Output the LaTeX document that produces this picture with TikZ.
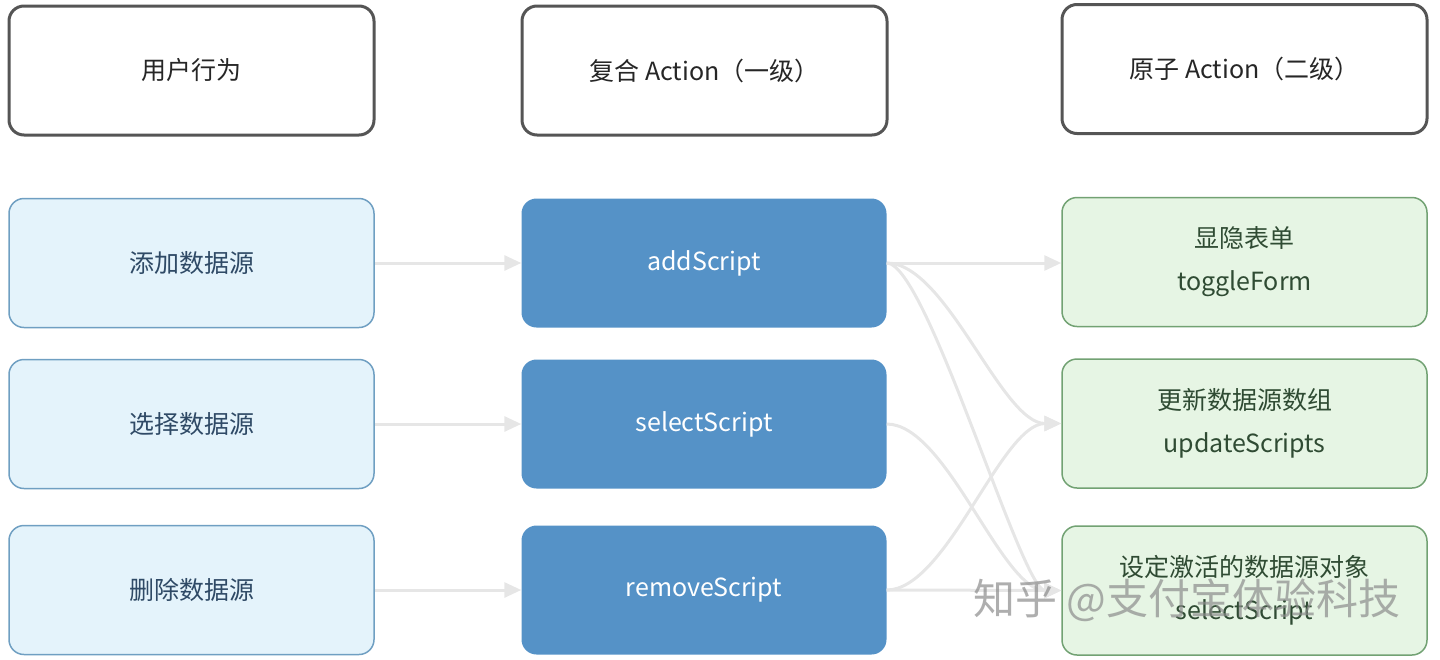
\documentclass[tikz,border=0pt]{standalone}
\usepackage{fontspec}
\setmainfont{Noto Sans CJK SC}
\usetikzlibrary{arrows.meta}
\definecolor{hdrborder}{HTML}{555555}
\definecolor{userfill}{HTML}{E4F3FB}
\definecolor{userborder}{HTML}{6F9FC2}
\definecolor{usertext}{HTML}{2F4A66}
\definecolor{compfill}{HTML}{5592C7}
\definecolor{atomfill}{HTML}{E6F5E4}
\definecolor{atomborder}{HTML}{72A273}
\definecolor{atomtext}{HTML}{2F4B33}
\definecolor{linkgray}{HTML}{E6E6E6}
\tikzset{
  box/.style={rectangle, rounded corners=15pt, minimum width=365pt, minimum height=129pt, inner sep=0pt, align=center, font=\fontsize{25}{43}\selectfont},
  hdr/.style={box, draw=hdrborder, line width=3pt, fill=white, text=black!85},
  user/.style={box, draw=userborder, line width=1.5pt, fill=userfill, text=usertext},
  comp/.style={box, fill=compfill, text=white},
  atom/.style={box, draw=atomborder, line width=1.5pt, fill=atomfill, text=atomtext},
  link/.style={draw=linkgray, line width=3pt, -{Triangle[length=17pt,width=15pt]}},
}
\begin{document}
\begin{tikzpicture}[x=1pt,y=-1pt]
\useasboundingbox (0,0) rectangle (1440,659);
\node[hdr] (h1) at (191.5,70.5) {用户行为};
\node[hdr] (h2) at (704.5,70.5) {复合 Action（一级）};
\node[hdr] (h3) at (1244.5,69) {原子 Action（二级）};

\node[user] (u1) at (191.5,263) {添加数据源};
\node[user] (u2) at (191.5,424) {选择数据源};
\node[user] (u3) at (191.5,590) {删除数据源};

\node[comp] (c1) at (704,263) {addScript};
\node[comp] (c2) at (704,424) {selectScript};
\node[comp] (c3) at (704,590) {removeScript};

\node[atom] (a1) at (1244.5,262) {显隐表单\\toggleForm};
\node[atom] (a2) at (1244.5,423.5) {更新数据源数组\\updateScripts};
\node[atom] (a3) at (1244.5,590.5) {设定激活的数据源对象\\selectScript};

\draw[link] (u1.east) -- (c1.west);
\draw[link] (u2.east) -- (c2.west);
\draw[link] (u3.east) -- (c3.west);

\draw[link] (c1.east) -- (a1.west |- c1.east);
\draw[link] (c1.east) .. controls +(60,0) and +(-60,0) .. (a2.west);
\draw[link] (c1.east) .. controls +(40,0) and +(-40,0) .. (a3.west);
\draw[link] (c2.east) .. controls +(60,0) and +(-60,0) .. (a3.west);
\draw[link] (c3.east) .. controls +(60,0) and +(-60,0) .. (a2.west);
\draw[link] (c3.east) -- (a3.west);

\node[text=black!45, opacity=0.7, font=\fontsize{42}{42}\selectfont] (wm) at (1187,600) {知乎 @支付宝体验科技};
\end{tikzpicture}
\end{document}
